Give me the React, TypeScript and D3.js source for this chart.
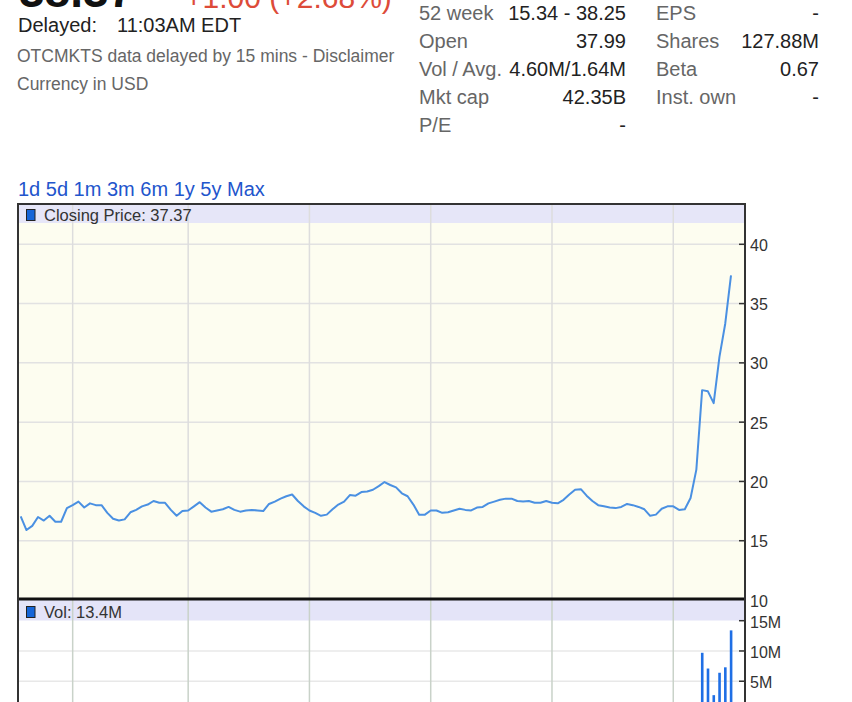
import React from 'react';
import * as d3 from 'd3';

// daily closes, oldest first (USD)
const closes = [
  17.05, 15.9, 16.25, 17.0, 16.7, 17.1, 16.6, 16.6, 17.75, 18.0,
  18.3, 17.8, 18.15, 18.0, 18.0, 17.35, 16.85, 16.7, 16.8, 17.4,
  17.6, 17.9, 18.05, 18.35, 18.2, 18.2, 17.6, 17.1, 17.5, 17.55,
  17.9, 18.25, 17.8, 17.45, 17.55, 17.65, 17.85, 17.6, 17.45, 17.55,
  17.6, 17.55, 17.5, 18.1, 18.3, 18.55, 18.75, 18.9, 18.35, 17.9,
  17.55, 17.35, 17.1, 17.2, 17.65, 18.05, 18.3, 18.85, 18.8, 19.1,
  19.15, 19.3, 19.6, 19.95, 19.7, 19.5, 19.0, 18.75, 18.05, 17.2,
  17.2, 17.55, 17.55, 17.35, 17.4, 17.55, 17.7, 17.6, 17.55, 17.8,
  17.85, 18.15, 18.3, 18.45, 18.55, 18.55, 18.35, 18.3, 18.35, 18.2,
  18.2, 18.35, 18.2, 18.15, 18.45, 18.9, 19.3, 19.35, 18.8, 18.35,
  18.0, 17.9, 17.8, 17.75, 17.85, 18.1, 18.0, 17.85, 17.65, 17.1,
  17.2, 17.7, 17.9, 17.9, 17.6, 17.65, 18.6, 21.0, 27.7, 27.6,
  26.6, 30.5, 33.3, 37.37,
];
// volume in millions for the last sessions (earlier ones sit below the view)
const volumeTail = [9.7, 7.1, 2.7, 6.4, 7.3, 13.4];
const priceTicks = [10, 15, 20, 25, 30, 35, 40];
const volTicks = [5, 10, 15];
// session index where each month starts
const monthStarts = [9, 29, 50, 71, 92, 113];
const ranges = ['1d', '5d', '1m', '3m', '6m', '1y', '5y', 'Max'];
const statsLeft = [
  ['52 week', '15.34 - 38.25'],
  ['Open', '37.99'],
  ['Vol / Avg.', '4.60M/1.64M'],
  ['Mkt cap', '42.35B'],
  ['P/E', '-'],
];
const statsRight = [
  ['EPS', '-'],
  ['Shares', '127.88M'],
  ['Beta', '0.67'],
  ['Inst. own', '-'],
];

const W = 852;
const H = 702;
const font = "'Liberation Sans', Arial, Helvetica, sans-serif";

const App: React.FC = () => {
  const left = 18;
  const right = 745;
  const top = 204;
  const sep = 599;

  const x = d3.scaleLinear().domain([0, closes.length - 1]).range([20.7, 731]);
  const y = d3.scaleLinear().domain([10, 40]).range([600, 244.3]);
  const yv = d3.scaleLinear().domain([0, 15]).range([711.5, 620.7]);

  const line = d3.line<number>()
    .x((d, i) => x(i))
    .y(d => y(d));

  const volStart = closes.length - volumeTail.length;

  return (
    <svg width={W} height={H} style={{ position: 'absolute', left: 0, top: 0, display: 'block' }}
      fontFamily={font}>
      <rect width={W} height={H} fill="#fff" />

      {/* header (top of it is scrolled out of view) */}
      <text x={19} y={7} fontSize={46} fontWeight="bold" fill="#111">38.37</text>
      <text x={185} y={7.5} fontSize={30} fill="#dd4b39">+1.00 (+2.68%)</text>
      <text x={18} y={32} fontSize={20} fill="#222">Delayed:</text>
      <text x={117} y={32} fontSize={20} fill="#222">11:03AM EDT</text>
      <text x={17} y={61.5} fontSize={17.5} fill="#666">OTCMKTS data delayed by 15 mins - Disclaimer</text>
      <text x={17} y={89.5} fontSize={17.5} fill="#666">Currency in USD</text>

      {statsLeft.map((s, i) => (
        <g key={s[0]} fontSize={20}>
          <text x={419} y={19.5 + i * 28.2} fill="#666">{s[0]}</text>
          <text x={626} y={19.5 + i * 28.2} fill="#222" textAnchor="end">{s[1]}</text>
        </g>
      ))}
      {statsRight.map((s, i) => (
        <g key={s[0]} fontSize={20}>
          <text x={656} y={19.5 + i * 28.2} fill="#666">{s[0]}</text>
          <text x={819} y={19.5 + i * 28.2} fill="#222" textAnchor="end">{s[1]}</text>
        </g>
      ))}

      <text x={18} y={196} fontSize={20} fill="#2255cc">{ranges.join(' ')}</text>

      {/* price panel */}
      <rect x={left} y={top} width={right - left} height={sep - top} fill="#fdfdf0" />
      <rect x={left} y={top} width={right - left} height={19} fill="#e6e6f8" />
      {priceTicks.filter(t => t > 10).map(t => (
        <line key={t} x1={left} x2={right} y1={y(t)} y2={y(t)} stroke="#e2e2e2" strokeWidth={1.5} />
      ))}
      {monthStarts.map(m => (
        <line key={m} x1={x(m)} x2={x(m)} y1={top} y2={sep} stroke="#dddddd" strokeWidth={1.5} />
      ))}
      <path d={line(closes) || ''} fill="none" stroke="#4a90e2" strokeWidth={2} strokeLinejoin="round" />

      {/* volume panel */}
      <rect x={left} y={sep} width={right - left} height={H - sep} fill="#fff" />
      <rect x={left} y={sep + 1} width={right - left} height={20.5} fill="#e4e4f8" />
      {volTicks.filter(t => t < 15).map(t => (
        <line key={t} x1={left} x2={right} y1={yv(t)} y2={yv(t)} stroke="#e8e8e8" strokeWidth={1.5} />
      ))}
      {monthStarts.map(m => (
        <line key={m} x1={x(m)} x2={x(m)} y1={sep} y2={H} stroke="#c9d2c9" strokeWidth={1.5} />
      ))}
      {volumeTail.map((v, i) => (
        <rect key={i} x={x(volStart + i) - 1.2} y={yv(v)} width={2.6} height={H - yv(v)} fill="#1f6fe5" />
      ))}

      {/* frame */}
      <line x1={left} x2={right} y1={sep} y2={sep} stroke="#111" strokeWidth={3} />
      <line x1={left} x2={right} y1={top} y2={top} stroke="#333" strokeWidth={2} />
      <line x1={left} x2={left} y1={top - 1} y2={H} stroke="#333" strokeWidth={2} />
      <line x1={right} x2={right} y1={top - 1} y2={H} stroke="#333" strokeWidth={2} />

      {/* axes */}
      {priceTicks.map(t => (
        <g key={t}>
          {t > 10 && <line x1={right - 6} x2={right} y1={y(t)} y2={y(t)} stroke="#333" strokeWidth={1.5} />}
          <text x={750} y={y(t) + 6.5} fontSize={16} fill="#333">{t}</text>
        </g>
      ))}
      {volTicks.map(t => (
        <g key={t}>
          <line x1={right - 6} x2={right} y1={yv(t)} y2={yv(t)} stroke="#333" strokeWidth={1.5} />
          <text x={750} y={yv(t) + 7} fontSize={16} fill="#333">{t + 'M'}</text>
        </g>
      ))}

      {/* legends */}
      <rect x={26.5} y={209.5} width={8.5} height={11} fill="#1565d8" stroke="#222" strokeWidth={1} />
      <text x={44} y={221} fontSize={16.5} fill="#333">Closing Price: 37.37</text>
      <rect x={26.5} y={606.5} width={8.5} height={11} fill="#1565d8" stroke="#222" strokeWidth={1} />
      <text x={44} y={618} fontSize={16.5} fill="#333">Vol: 13.4M</text>
    </svg>
  );
};

export default App;
